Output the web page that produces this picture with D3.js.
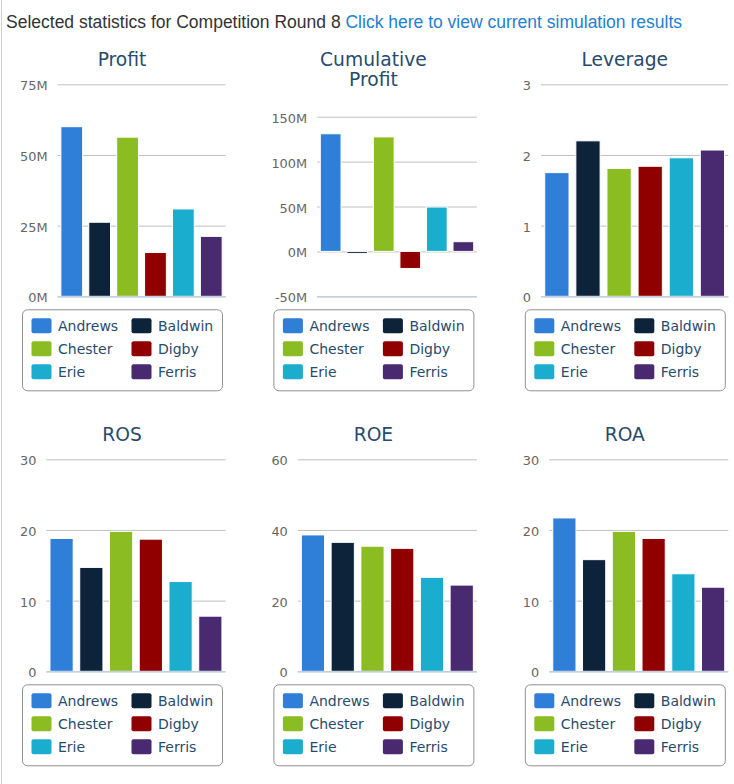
<!DOCTYPE html>
<html>
<head>
<meta charset="utf-8">
<script src="https://cdn.jsdelivr.net/npm/d3@7/dist/d3.min.js"></script>
<style>
  html, body { margin: 0; padding: 0; background: #fff; }
  svg { display: block; }
</style>
</head>
<body>
<svg id="chart" width="734" height="784"></svg>
<script>
// ---- data ----
const companies = ["Andrews", "Baldwin", "Chester", "Digby", "Erie", "Ferris"];
const companyColors = ["#2f7ed8", "#0d233a", "#8bbc21", "#910000", "#1aadce", "#492970"];

const profit = [60.0, 26.2, 56.3, 15.5, 30.9, 21.2];            // millions
const cumulativeProfit = [131.0, -2.2, 127.5, -19.0, 49.4, 10.8]; // millions
const leverage = [1.75, 2.20, 1.81, 1.84, 1.96, 2.07];
const ros = [18.8, 14.7, 19.8, 18.7, 12.7, 7.8];
const roe = [38.6, 36.5, 35.4, 34.8, 26.6, 24.4];
const roa = [21.7, 15.8, 19.8, 18.8, 13.8, 11.9];

const profitTicks = [0, 25, 50, 75];
const cumulativeTicks = [-50, 0, 50, 100, 150];
const leverageTicks = [0, 1, 2, 3];
const rosTicks = [0, 10, 20, 30];
const roeTicks = [0, 20, 40, 60];
const roaTicks = [0, 10, 20, 30];

const headerText = "Selected statistics for Competition Round 8";
const linkText = "Click here to view current simulation results";

const charts = [
  { title: ["Profit"], values: profit, ticks: profitTicks, suffix: "M" },
  { title: ["Cumulative", "Profit"], values: cumulativeProfit, ticks: cumulativeTicks, suffix: "M" },
  { title: ["Leverage"], values: leverage, ticks: leverageTicks, suffix: "" },
  { title: ["ROS"], values: ros, ticks: rosTicks, suffix: "" },
  { title: ["ROE"], values: roe, ticks: roeTicks, suffix: "" },
  { title: ["ROA"], values: roa, ticks: roaTicks, suffix: "" }
];

// ---- drawing ----
const svg = d3.select("#chart");
const FONT = "'DejaVu Sans', Verdana, sans-serif";

// left frame line
svg.append("line").attr("x1", 1.5).attr("x2", 1.5).attr("y1", 0).attr("y2", 784)
  .attr("stroke", "#d0d0d0").attr("stroke-width", 1);

// header
const header = svg.append("text").attr("x", 6).attr("y", 27.5)
  .attr("font-family", "'Liberation Sans', Arial, sans-serif").attr("font-size", 17.5);
header.append("tspan").attr("fill", "#333").text(headerText + " ");
header.append("tspan").attr("fill", "#1f80d0").text(linkText);

charts.forEach((c, i) => {
  const col = i % 3, row = Math.floor(i / 3);
  const cx = 122 + col * 251.4;
  const oy = row * 375;
  const g = svg.append("g").attr("transform", `translate(0,${oy})`);

  // title
  const t = g.append("text").attr("text-anchor", "middle")
    .attr("font-family", FONT).attr("font-size", 18.7).attr("fill", "#274b6d");
  c.title.forEach((line, k) => {
    t.append("tspan").attr("x", cx).attr("y", 66 + k * 19.5).text(line);
  });

  const plotTop = c.title.length > 1 ? 116.7 : 84.3;
  const plotBottom = 296.3;

  // measure widest tick label
  const fmt = v => v + c.suffix;
  const meas = g.append("g").attr("font-family", FONT).attr("font-size", 12.9);
  let maxW = 0;
  c.ticks.forEach(v => {
    const tt = meas.append("text").text(fmt(v));
    maxW = Math.max(maxW, tt.node().getComputedTextLength());
  });
  meas.remove();

  const labelLeft = cx - 102;
  const plotLeft = labelLeft + maxW + 10;
  const plotRight = cx + 103.5;

  const y = d3.scaleLinear()
    .domain([c.ticks[0], c.ticks[c.ticks.length - 1]])
    .range([plotBottom, plotTop]);
  const x = d3.scaleBand().domain(companies).range([plotLeft, plotRight])
    .paddingInner(0.22).paddingOuter(0.12);

  // gridlines
  const yAxis = d3.axisLeft(y).tickValues(c.ticks).tickSize(-(plotRight - plotLeft))
    .tickFormat(fmt).tickPadding(10);
  const ag = g.append("g").attr("transform", `translate(${plotLeft},0)`).call(yAxis);
  ag.select(".domain").remove();
  ag.selectAll(".tick line").attr("stroke", "#c0c0c0").attr("stroke-width", 1);
  ag.selectAll(".tick text")
    .attr("font-family", FONT).attr("font-size", 12.9).attr("fill", "#666")
    .attr("dy", null).attr("y", 5.5);

  // bars
  g.append("g").selectAll("rect").data(c.values).enter().append("rect")
    .attr("x", (d, k) => x(companies[k]))
    .attr("width", x.bandwidth())
    .attr("y", d => Math.min(y(d), y(0)))
    .attr("height", d => Math.abs(y(d) - y(0)))
    .attr("fill", (d, k) => companyColors[k])
    .attr("stroke", "#ffffff").attr("stroke-width", 1);

  // x axis line (bottom)
  g.append("line").attr("x1", plotLeft).attr("x2", plotRight)
    .attr("y1", plotBottom + 0.5).attr("y2", plotBottom + 0.5)
    .attr("stroke", "#c0d0e0").attr("stroke-width", 1.5);

  // legend
  const lx = cx - 100, ly = 309.3;
  const lg = g.append("g");
  lg.append("rect").attr("x", lx + 0.5).attr("y", ly + 0.5).attr("width", 200).attr("height", 81)
    .attr("rx", 5).attr("fill", "#fff").attr("stroke", "#909090").attr("stroke-width", 1);
  companies.forEach((name, k) => {
    const ix = lx + 9.5 + (k % 2) * 100;
    const iy = ly + 9 + Math.floor(k / 2) * 23;
    lg.append("rect").attr("x", ix).attr("y", iy).attr("width", 20).attr("height", 15)
      .attr("rx", 2).attr("fill", companyColors[k]);
    lg.append("text").attr("x", ix + 26.5).attr("y", iy + 12.5)
      .attr("font-family", FONT).attr("font-size", 14).attr("fill", "#274b6d").text(name);
  });
});
</script>
</body>
</html>
